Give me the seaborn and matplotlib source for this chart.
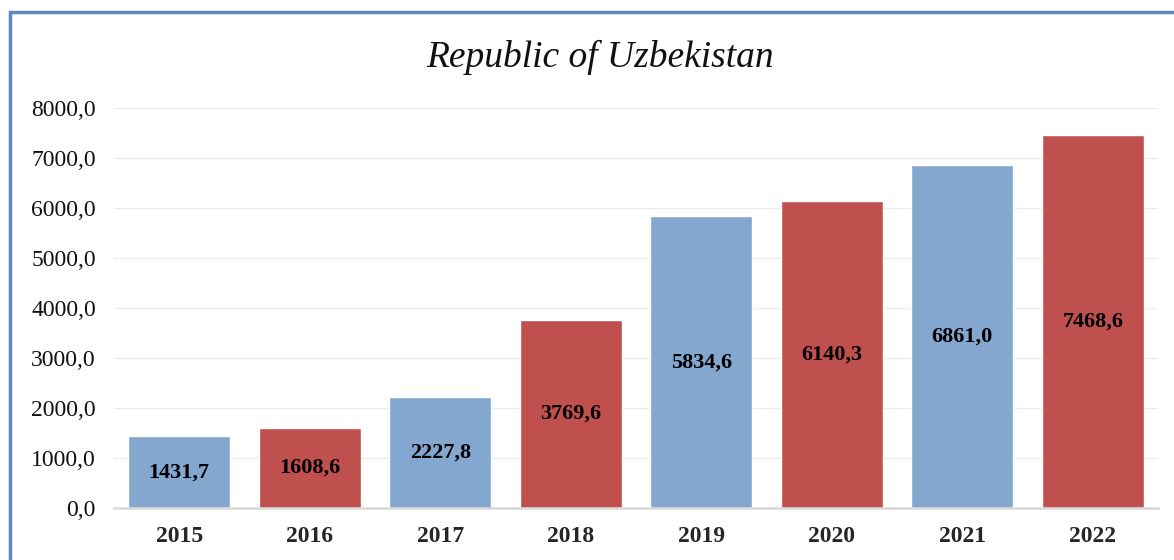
#!/usr/bin/env python3

import pandas as pd
import seaborn as sns
import matplotlib as mpl
import matplotlib.pyplot as plt
from matplotlib.patches import Rectangle

sns.set_theme(style="white")
mpl.rcParams["font.family"] = ["Liberation Serif", "DejaVu Serif"]
mpl.rcParams["figure.dpi"] = 100

years = ["2015", "2016", "2017", "2018", "2019", "2020", "2021", "2022"]
values = [1431.7, 1608.6, 2227.8, 3769.6, 5834.6, 6140.3, 6861.0, 7468.6]
colors = ["#84a7d0", "#c0504d"] * 4

df = pd.DataFrame({"year": years, "value": values})

fig = plt.figure(figsize=(11.74, 5.6))
ax = fig.add_axes([114 / 1174, 1 - 508 / 560, (1158 - 114) / 1174, 400 / 560])

sns.barplot(data=df, x="year", y="value", hue="year", palette=colors,
            width=0.78, saturation=1, legend=False, ax=ax)

ax.set_ylim(0, 8000)
ax.set_xlim(-0.5, 7.5)
ax.set_yticks(range(0, 8001, 1000))
ax.set_yticklabels(["{:.1f}".format(t).replace(".", ",") for t in range(0, 8001, 1000)])
ax.yaxis.grid(True, color="#ececec", lw=1)
ax.set_axisbelow(True)
for s in ["top", "right", "left"]:
    ax.spines[s].set_visible(False)
ax.spines["bottom"].set_color("#d9d9d9")
ax.spines["bottom"].set_linewidth(1.8)
ax.tick_params(axis="y", length=0, pad=13, labelsize=17, labelcolor="#111111")
ax.tick_params(axis="x", length=0, pad=13, labelsize=17)
for lab in ax.get_xticklabels():
    lab.set_fontweight("bold")
ax.set_xlabel("")
ax.set_ylabel("")

for i, v in enumerate(values):
    ax.text(i, v / 2, "{:.1f}".format(v).replace(".", ","), ha="center", va="center",
            fontsize=16, fontweight="bold", color="black")

fig.text(600 / 1174, 1 - 67 / 560, "Republic of Uzbekistan", ha="center", va="baseline",
         fontsize=27, style="italic", color="#111111")

fig.patches.append(Rectangle((10 / 1174, -0.1), 1.2, 1 - 12 / 560 + 0.1,
                             transform=fig.transFigure, fill=False,
                             edgecolor="#5b87c3", lw=2.5))

plt.savefig("out.png")
